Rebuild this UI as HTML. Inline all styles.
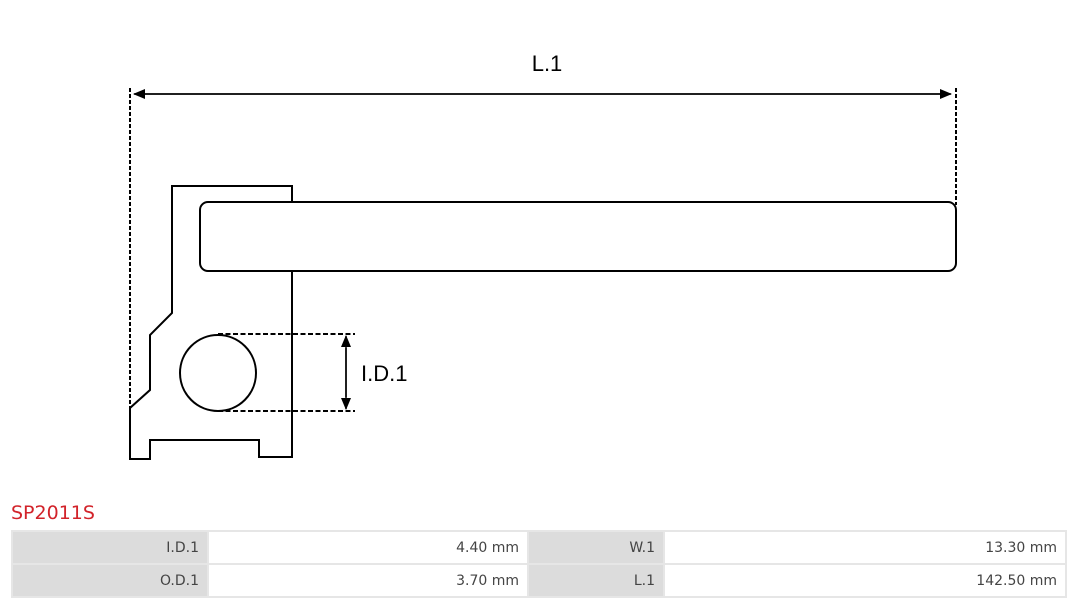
<!DOCTYPE html>
<html><head><style>
body{margin:0;width:1080px;height:603px;background:#fff;font-family:"DejaVu Sans","Liberation Sans",sans-serif;position:relative;overflow:hidden}
svg{position:absolute;left:0;top:0}
.t{position:absolute;left:11px;top:502px;color:#d2232a;font-size:19px}
table{position:absolute;left:11px;top:530px;width:1056px;border-collapse:separate;border-spacing:2px;background:#e6e6e6;font-size:14px;color:#444}
td{height:31px;text-align:right;padding:0 8px;}
.l{background:#dcdcdc}
.v{background:#fff}
</style></head><body>
<svg width="1080" height="603" viewBox="0 0 1080 603">
<defs><marker id="a" markerWidth="12" markerHeight="10" refX="11" refY="5" orient="auto" markerUnits="userSpaceOnUse"><path d="M0,0L12,5L0,10z" fill="#000"/></marker></defs>
<g stroke="#000" stroke-width="2" fill="none">
<line x1="130" y1="88" x2="130" y2="410" stroke-dasharray="4,2"/>
<line x1="956" y1="88" x2="956" y2="205" stroke-dasharray="4,2"/>
<line x1="144" y1="94" x2="951" y2="94" stroke-width="1.5" marker-end="url(#a)"/>
<line x1="942" y1="94" x2="134" y2="94" stroke-width="1.5" marker-end="url(#a)"/>
<path d="M292,202V186H172V313L150,335V390L130,408V459H150V440H259V457H292V272"/>
<rect x="200" y="202" width="756" height="69" rx="8"/>
<circle cx="218" cy="373" r="38"/>
<line x1="218" y1="334" x2="355" y2="334" stroke-dasharray="5,2.5"/>
<line x1="218" y1="411" x2="355" y2="411" stroke-dasharray="5,2.5"/>
<line x1="346" y1="348" x2="346" y2="409" stroke-width="1.5" marker-end="url(#a)"/>
<line x1="346" y1="397" x2="346" y2="336" stroke-width="1.5" marker-end="url(#a)"/>
</g>
<text x="547" y="71" font-size="22" text-anchor="middle" font-family="Liberation Sans,sans-serif" fill="#000">L.1</text>
<text x="361" y="381" font-size="22" font-family="Liberation Sans,sans-serif" fill="#000">I.D.1</text>
</svg>
<div class="t">SP2011S</div>
<table>
<tr><td class="l" style="width:178px">I.D.1</td><td class="v" style="width:302px">4.40 mm</td><td class="l" style="width:118px">W.1</td><td class="v">13.30 mm</td></tr>
<tr><td class="l">O.D.1</td><td class="v">3.70 mm</td><td class="l">L.1</td><td class="v">142.50 mm</td></tr>
</table>
</body></html>
